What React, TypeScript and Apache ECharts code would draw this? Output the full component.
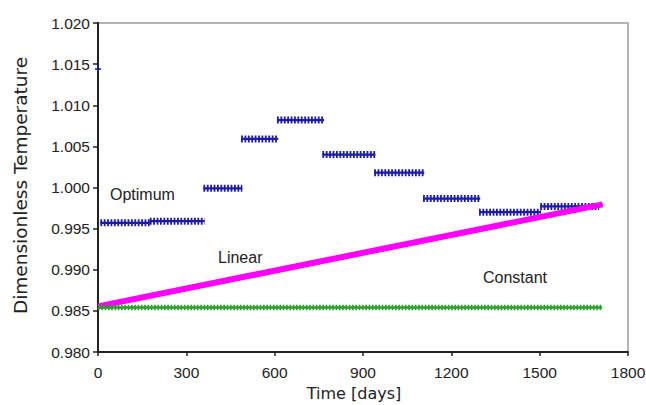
import React, { useEffect, useRef } from "react";
import * as echarts from "echarts";

// Optimum schedule: constant set-point per control stage (days, value)
const stageStart = [8, 176, 358, 486, 608, 762, 938, 1104, 1294, 1502];
const stageEnd = [176, 362, 490, 612, 768, 942, 1108, 1298, 1504, 1702];
const optimumValue = [0.9957, 0.9959, 0.9999, 1.0059, 1.0082, 1.004, 1.0018, 0.99865, 0.997, 0.9977];
const optimumInitial: [number, number] = [0, 1.0144];

// Linear schedule end points
const linearDays = [0, 1714];
const linearValue = [0.98555, 0.99795];

// Constant schedule
const constantDays = [0, 1712];
const constantValue = [0.9854, 0.9854];

const xTicks = { min: 0, max: 1800, interval: 300 };
const yTicks = { min: 0.98, max: 1.02, interval: 0.005 };

const BLUE = "#1c1ca8";
const PINK = "#ff00ff";
const GREEN = "#2a9e2a";
const INK = "#222";

export default function App() {
  const ref = useRef<HTMLDivElement>(null);

  useEffect(() => {
    if (!ref.current) return;
    const chart = echarts.init(ref.current, undefined, { renderer: "svg" });

    const series: any[] = [];
    stageStart.forEach((s, i) => {
      const pts = [
        [s, optimumValue[i]],
        [stageEnd[i], optimumValue[i]],
      ];
      series.push({
        type: "line",
        data: pts,
        symbol: "none",
        silent: true,
        lineStyle: { color: BLUE, width: 2.2 },
      });
      series.push({
        type: "line",
        data: pts,
        symbol: "none",
        silent: true,
        lineStyle: { color: BLUE, width: 7, type: [1.8, 1.6] },
      });
    });
    series.push({
      type: "scatter",
      data: [optimumInitial],
      symbol: "path://M2,0H4V2H6V4H4V6H2V4H0V2H2Z",
      symbolSize: 6,
      itemStyle: { color: BLUE },
      silent: true,
    });
    series.push({
      type: "line",
      data: linearDays.map((d, i) => [d, linearValue[i]]),
      symbol: "none",
      silent: true,
      lineStyle: { color: PINK, width: 6 },
    });
    const constPts = constantDays.map((d, i) => [d, constantValue[i]]);
    series.push({
      type: "line",
      data: constPts,
      symbol: "none",
      silent: true,
      lineStyle: { color: GREEN, width: 2.5 },
    });
    series.push({
      type: "line",
      data: constPts,
      symbol: "none",
      silent: true,
      lineStyle: { color: GREEN, width: 5.5, type: [1.6, 1.7] },
    });

    const labelFont = {
      fontFamily: "Liberation Sans",
      fontSize: 15.5,
      color: INK,
    };
    const noteStyle = {
      fontFamily: "Liberation Sans",
      fontSize: 16,
      fill: INK,
    };

    chart.setOption({
      animation: false,
      backgroundColor: "#fff",
      grid: {
        left: 98,
        right: 18,
        top: 23,
        bottom: 53,
        show: true,
        containLabel: false,
        outerBoundsMode: "none",
        borderColor: "#9a9a9a",
        borderWidth: 1.5,
        backgroundColor: "transparent",
      },
      xAxis: {
        type: "value",
        ...xTicks,
        name: "Time [days]",
        nameLocation: "middle",
        nameGap: 33,
        nameTextStyle: {
          fontFamily: "DejaVu Sans",
          fontSize: 16,
          color: INK,
          padding: [0, 18, 0, 0],
        },
        axisLine: { show: true, lineStyle: { color: INK, width: 2 } },
        axisTick: { show: true, length: 4, lineStyle: { color: INK, width: 1.5 } },
        axisLabel: { ...labelFont, margin: 12, formatter: (v: number) => String(v) },
        splitLine: { show: false },
      },
      yAxis: {
        type: "value",
        ...yTicks,
        name: "Dimensionless Temperature",
        nameLocation: "middle",
        nameRotate: 90,
        nameGap: 68,
        nameTextStyle: {
          fontFamily: "DejaVu Sans",
          fontSize: 18.5,
          color: INK,
          padding: [0, 0, 0, 4],
        },
        axisLine: { show: true, lineStyle: { color: INK, width: 2 } },
        axisTick: { show: true, length: 5, lineStyle: { color: INK, width: 1.5 } },
        axisLabel: {
          ...labelFont,
          margin: 8,
          formatter: (v: number) => v.toFixed(3),
        },
        splitLine: { show: false },
      },
      graphic: [
        { type: "text", left: 110, top: 186, style: { ...noteStyle, text: "Optimum" } },
        { type: "text", left: 218, top: 249, style: { ...noteStyle, text: "Linear" } },
        { type: "text", left: 483, top: 269, style: { ...noteStyle, text: "Constant" } },
      ],
      series,
    });

    return () => chart.dispose();
  }, []);

  return (
    <div
      ref={ref}
      style={{ position: "fixed", left: 0, top: 0, width: 646, height: 405 }}
    />
  );
}
